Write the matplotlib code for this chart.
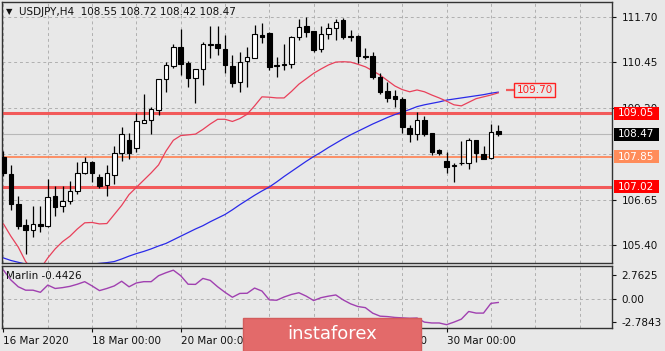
import matplotlib.pyplot as plt
import numpy as np
from matplotlib.patches import Rectangle
from matplotlib.transforms import blended_transform_factory

# USDJPY H4 bars, 16 Mar 00:00 .. 31 Mar 04:00 (6 bars per trading day)
opens = [107.85, 107.36, 106.54, 105.96, 105.82, 105.99, 105.93, 106.75, 106.48, 106.62,
         106.89, 107.41, 107.69, 107.28, 107.06, 107.33, 107.96, 108.30, 108.10, 108.79,
         108.87, 109.14, 110.00, 110.35, 110.88, 110.44, 110.02, 110.27, 110.94, 110.96,
         110.82, 110.35, 109.91, 110.49, 110.57, 111.20, 111.26, 110.38, 110.38, 110.41,
         111.15, 111.45, 111.32, 110.82, 111.23, 111.40, 111.62, 111.18, 111.18, 110.63,
         110.63, 110.05, 109.67, 109.53, 109.45, 108.65, 108.46, 108.87, 108.51, 108.02,
         107.74, 107.58, 107.66, 107.66, 108.30, 107.91, 107.80, 108.55]
highs = [108.00, 107.61, 106.75, 106.12, 106.48, 106.48, 107.22, 107.03, 107.03, 107.17,
         107.69, 107.85, 107.72, 107.36, 107.63, 108.13, 108.68, 108.51, 109.06, 109.58,
         109.23, 110.00, 110.45, 110.96, 111.37, 110.49, 110.27, 111.02, 111.45, 111.45,
         111.20, 110.66, 110.74, 110.88, 111.48, 111.53, 111.28, 110.60, 110.96, 111.17,
         111.65, 111.70, 111.32, 111.45, 111.54, 111.65, 111.67, 111.34, 111.20, 110.85,
         110.74, 110.16, 109.91, 109.69, 109.50, 108.73, 109.09, 108.98, 108.51, 108.05,
         107.99, 107.66, 108.27, 108.35, 108.32, 108.13, 108.76, 108.72]
lows = [107.30, 106.37, 105.85, 105.16, 105.63, 105.76, 105.90, 106.21, 106.32, 106.54,
        106.81, 107.38, 107.14, 106.97, 106.75, 107.08, 107.72, 107.77, 107.99, 108.77,
        108.48, 109.01, 109.64, 110.30, 110.11, 109.78, 109.34, 109.83, 110.57, 110.66,
        110.16, 109.78, 109.64, 109.78, 110.57, 110.99, 110.24, 110.05, 110.24, 110.30,
        111.07, 111.15, 110.74, 110.74, 111.10, 111.07, 111.09, 111.04, 110.44, 110.55,
        110.00, 109.58, 109.36, 109.23, 108.51, 108.24, 108.32, 108.43, 107.88, 107.88,
        107.39, 107.14, 107.63, 107.52, 107.69, 107.77, 107.77, 108.42]
closes = [107.41, 106.54, 105.93, 105.82, 105.99, 105.93, 106.73, 106.45, 106.62, 106.89,
          107.41, 107.69, 107.41, 107.03, 107.39, 107.96, 108.46, 107.95, 108.82, 108.87,
          109.17, 110.00, 110.38, 110.88, 110.41, 110.02, 110.27, 110.96, 110.96, 110.85,
          110.38, 109.89, 110.46, 110.60, 111.23, 111.15, 110.33, 110.35, 110.41, 111.15,
          111.43, 111.29, 110.79, 111.23, 111.40, 111.56, 111.15, 111.15, 110.63, 110.60,
          110.05, 109.64, 109.47, 109.45, 108.68, 108.46, 108.87, 108.46, 107.99, 107.96,
          107.55, 107.63, 107.68, 108.32, 107.94, 107.77, 108.54, 108.47]

ma_red = [105.99, 105.65, 105.35, 104.95, 104.70, 104.75, 105.05, 105.30, 105.50, 105.65,
          105.85, 106.02, 106.03, 105.99, 106.00, 106.25, 106.50, 106.80, 107.00, 107.20,
          107.40, 107.62, 108.00, 108.30, 108.43, 108.45, 108.47, 108.60, 108.75, 108.88,
          108.88, 108.82, 108.90, 109.02, 109.25, 109.50, 109.49, 109.47, 109.47, 109.65,
          109.85, 110.00, 110.15, 110.27, 110.38, 110.46, 110.47, 110.46, 110.40, 110.33,
          110.22, 110.10, 109.95, 109.80, 109.70, 109.64, 109.69, 109.64, 109.55, 109.47,
          109.38, 109.28, 109.25, 109.35, 109.45, 109.50, 109.55, 109.61]
ma_blue = [105.05, 104.98, 104.93, 104.88, 104.85, 104.83, 104.82, 104.82, 104.83, 104.84,
           104.85, 104.86, 104.88, 104.90, 104.92, 104.95, 105.02, 105.10, 105.17, 105.23,
           105.30, 105.38, 105.45, 105.55, 105.65, 105.75, 105.85, 105.94, 106.05, 106.15,
           106.25, 106.38, 106.52, 106.65, 106.78, 106.90, 107.01, 107.15, 107.30, 107.44,
           107.58, 107.72, 107.85, 107.97, 108.10, 108.22, 108.34, 108.45, 108.55, 108.65,
           108.75, 108.84, 108.93, 109.01, 109.08, 109.15, 109.23, 109.28, 109.32, 109.36,
           109.41, 109.44, 109.47, 109.50, 109.53, 109.56, 109.60, 109.63]
marlin = [3.35, 2.20, 1.40, 1.00, 1.00, 0.75, 1.60, 1.20, 1.30, 1.45,
          1.70, 2.00, 1.50, 0.95, 1.20, 1.50, 2.05, 1.40, 1.85, 2.00,
          2.00, 2.70, 3.05, 3.35, 2.70, 1.70, 1.68, 2.38, 2.15, 1.40,
          0.75, 0.17, 0.62, 0.64, 1.25, 0.90, -0.14, -0.18, 0.20, 0.50,
          0.70, 0.30, -0.22, 0.12, 0.30, 0.44, -0.14, -0.60, -0.92, -1.05,
          -1.70, -2.05, -2.10, -2.20, -2.25, -2.30, -2.27, -2.75, -2.85, -2.85,
          -3.05, -2.75, -2.40, -1.50, -1.69, -1.69, -0.55, -0.4426]

levels = [109.05, 107.85, 107.02]
level_line_colors = ['#f25a5a', '#ff8050', '#f25a5a']
level_box_colors = ['#ff0000', '#ff8c5a', '#ff0000']
level_widths = [2.2, 1.2, 2.2]
target = 109.70

price_ticks = [111.70, 110.45, 109.20, 106.65, 105.40]
price_grid = [111.70, 110.45, 109.20, 107.93, 106.65, 105.40]
marlin_ticks = [2.7625, 0.00, -2.7843]
marlin_tick_labels = ['2.7625', '0.00', '-2.7843']
tick_idx = [0, 12, 24, 36, 48, 60]
tick_labels = ['16 Mar 2020', '18 Mar 00:00', '20 Mar 00:00', '24 Mar 00:00',
               '26 Mar 00:00', '30 Mar 00:00']

BG = '#e8e8e8'
GRID = '#b0b0b0'
W, H = 665, 351
FS = 7.5


def px_box(l, t, r, b):
    return [l / W, 1 - b / H, (r - l) / W, (b - t) / H]


fig = plt.figure(figsize=(W / 100, H / 100), dpi=100, facecolor=BG)
ax = fig.add_axes(px_box(2, 2, 612, 263), facecolor=BG)
ax2 = fig.add_axes(px_box(2, 266, 612, 328), facecolor=BG)

x = np.arange(len(opens))
o, h, l, c = (np.array(v) for v in (opens, highs, lows, closes))
days = np.arange(0, 84, 6)

# grid
for a in (ax, ax2):
    for d in days:
        a.axvline(d, color=GRID, lw=0.7, ls=(0, (3, 3)), zorder=0)
for g in price_grid:
    ax.axhline(g, color=GRID, lw=0.7, ls=(0, (3, 3)), zorder=0)
ax2.axhline(0, color=GRID, lw=0.7, ls=(0, (3, 3)), zorder=0)

# levels
ax.axhline(closes[-1], color='#b8b8b8', lw=0.8, zorder=1)
for lv, col, lw in zip(levels, level_line_colors, level_widths):
    ax.axhline(lv, color=col, lw=lw, zorder=1)

# moving averages
ax.plot(x, ma_blue, color='#2a2ae8', lw=0.9, zorder=2)
ax.plot(x, ma_red, color='#e8405a', lw=0.9, zorder=2)

# candles
ax.vlines(x, l, h, color='black', lw=0.9, zorder=3)
body = np.maximum(np.abs(c - o), 0.015)
ax.bar(x, body, width=0.62, bottom=np.minimum(o, c),
       color=np.where(c >= o, 'white', 'black'), edgecolor='black',
       linewidth=0.8, zorder=4)

ax.set_xlim(-0.2, 82.4)
ax.set_ylim(104.91, 112.12)
ax.set_xticks([])
ax.yaxis.tick_right()
ax.set_yticks(price_ticks)
ax.set_yticklabels([f'{p:.2f}' for p in price_ticks])
ax.tick_params(axis='y', direction='out', length=3, width=0.8, pad=4,
               labelsize=FS, colors='#111111')

# target label
ax.plot([len(opens), len(opens) + 1.1], [target, target], color='#f25a5a', lw=1.6,
        solid_capstyle='butt', zorder=5)
ax.text(len(opens) + 3.9, target, f'{target:.2f}', color='#ff2020', fontsize=FS,
        ha='center', va='center', zorder=6,
        bbox=dict(boxstyle='square,pad=0.2', facecolor=BG, edgecolor='#ff2020', lw=1))

# right axis price boxes
tr = blended_transform_factory(ax.transAxes, ax.transData)
box_h = 13 / 36.2
box_items = list(zip(levels, level_box_colors)) + [(closes[-1], 'black')]
for lv, col in box_items:
    ax.add_patch(Rectangle((1.003, lv - box_h / 2), 0.074, box_h, transform=tr,
                           facecolor=col, edgecolor='none', clip_on=False, zorder=6))
    ax.text(1.040, lv, f'{lv:.2f}', transform=tr, color='white', fontsize=FS,
            ha='center', va='center', clip_on=False, zorder=7)

# indicator
ax2.plot(x, marlin, color='#a040b0', lw=1.0, zorder=2)
ax2.set_xlim(-0.2, 82.4)
ax2.set_ylim(-3.44, 3.84)
ax2.yaxis.tick_right()
ax2.set_yticks(marlin_ticks)
ax2.set_yticklabels(marlin_tick_labels)
ax2.tick_params(axis='y', direction='out', length=3, width=0.8, pad=4,
                labelsize=FS, colors='#111111')
ax2.set_xticks(tick_idx)
ax2.set_xticklabels(tick_labels, ha='left')
ax2.tick_params(axis='x', direction='out', length=3, width=0.8, pad=3,
                labelsize=FS, colors='#111111')
ax2.text(0.006, 0.84, f'Marlin {marlin[-1]:.4f}', transform=ax2.transAxes,
         fontsize=FS, color='#111111', va='center', ha='left')

for a in (ax, ax2):
    for s in a.spines.values():
        s.set_color('#333333')
        s.set_linewidth(1.0)

# header
fig.text(6 / W, 1 - 12 / H, '▼', fontsize=6, color='#111111', va='center')
fig.text(19 / W, 1 - 12 / H,
         f'USDJPY,H4  {opens[-1]:.2f} {highs[-1]:.2f} {lows[-1]:.2f} {closes[-1]:.2f}',
         fontsize=FS, color='#111111', va='center')

# watermark
fig.add_artist(Rectangle((243 / W, 0), 178 / W, 33 / H, transform=fig.transFigure,
                         facecolor='#e36a6a', edgecolor='#d35c5c', lw=1, zorder=10))
fig.text(332 / W, 1 - 334 / H, 'instaforex', color='white', fontsize=13,
         ha='center', va='center', zorder=11)

fig.savefig('out.png', dpi=100, facecolor=BG)
